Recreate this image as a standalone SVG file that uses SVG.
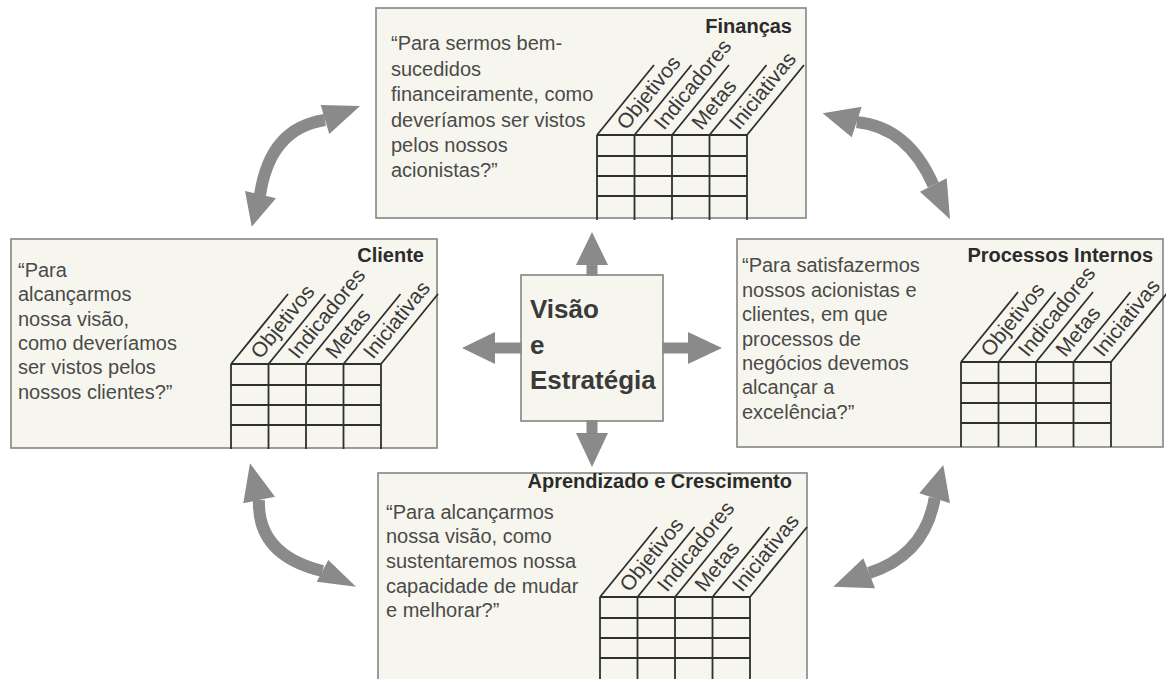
<svg xmlns="http://www.w3.org/2000/svg" xmlns:xlink="http://www.w3.org/1999/xlink" width="1166" height="679" viewBox="0 0 1166 679">
<style>
.box{fill:#f7f6ee;stroke:#858585;stroke-width:1.6}
.grid{fill:none;stroke:#2f2f2f;stroke-width:1.8}
.q{font-family:"Liberation Sans",Arial,sans-serif;font-size:20px;fill:#4a4a4a}
.t{font-family:"Liberation Sans",Arial,sans-serif;font-size:20px;font-weight:bold;fill:#2b2b2b;text-anchor:end}
.lbl{font-family:"Liberation Sans",Arial,sans-serif;font-size:21px;fill:#3a3a3a}
.c{font-family:"Liberation Sans",Arial,sans-serif;font-size:26px;font-weight:bold;fill:#3a3a3a}
.arr{fill:#8a8a8a}
.curve{fill:none;stroke:#8a8a8a;stroke-width:12}
</style>
<defs>
<path id="grid" class="grid" d="M0,0H150M0,21H150M0,41H150M0,61H150M0,0V85M37.5,0V85M75,0V85M112.5,0V85M150,0V85M0,0l57,-70M37.5,0l57,-70M75,0l57,-70M112.5,0l57,-70M150,0l57,-70"/>
</defs>
<rect width="1166" height="679" fill="#ffffff"/>

<g id="financas">
<rect class="box" x="376" y="8" width="430" height="210"/>
<text class="t" x="792" y="33">Finanças</text>
<text class="q" x="391" y="50">“Para sermos bem-</text>
<text class="q" x="391" y="76">sucedidos</text>
<text class="q" x="391" y="101">financeiramente, como</text>
<text class="q" x="391" y="127">deveríamos ser vistos</text>
<text class="q" x="391" y="152">pelos nossos</text>
<text class="q" x="391" y="177">acionistas?”</text>
<use xlink:href="#grid" x="597" y="135"/>
<text class="lbl" transform="translate(626.5,131) rotate(-51)">Objetivos</text>
<text class="lbl" transform="translate(664,131) rotate(-51)">Indicadores</text>
<text class="lbl" transform="translate(701.5,131) rotate(-51)">Metas</text>
<text class="lbl" transform="translate(739,131) rotate(-51)">Iniciativas</text>
</g>

<g id="cliente">
<rect class="box" x="11" y="239" width="426" height="209"/>
<text class="t" x="424" y="262">Cliente</text>
<text class="q" x="18" y="277">“Para</text>
<text class="q" x="18" y="301">alcançarmos</text>
<text class="q" x="18" y="326">nossa visão,</text>
<text class="q" x="18" y="350">como deveríamos</text>
<text class="q" x="18" y="374">ser vistos pelos</text>
<text class="q" x="18" y="399">nossos clientes?”</text>
<use xlink:href="#grid" x="231" y="364"/>
<text class="lbl" transform="translate(260.5,360) rotate(-51)">Objetivos</text>
<text class="lbl" transform="translate(298,360) rotate(-51)">Indicadores</text>
<text class="lbl" transform="translate(335.5,360) rotate(-51)">Metas</text>
<text class="lbl" transform="translate(373,360) rotate(-51)">Iniciativas</text>
</g>

<g id="processos">
<rect class="box" x="737" y="239" width="426" height="208"/>
<text class="t" x="1153" y="262">Processos Internos</text>
<text class="q" x="742" y="272">“Para satisfazermos</text>
<text class="q" x="742" y="297">nossos acionistas e</text>
<text class="q" x="742" y="321">clientes, em que</text>
<text class="q" x="742" y="346">processos de</text>
<text class="q" x="742" y="370">negócios devemos</text>
<text class="q" x="742" y="394">alcançar a</text>
<text class="q" x="742" y="419">excelência?”</text>
<use xlink:href="#grid" x="961" y="362"/>
<text class="lbl" transform="translate(990.5,358) rotate(-51)">Objetivos</text>
<text class="lbl" transform="translate(1028,358) rotate(-51)">Indicadores</text>
<text class="lbl" transform="translate(1065.5,358) rotate(-51)">Metas</text>
<text class="lbl" transform="translate(1103,358) rotate(-51)">Iniciativas</text>
</g>

<g id="aprendizado">
<rect class="box" x="378" y="473" width="429" height="220"/>
<text class="t" x="792" y="488">Aprendizado e Crescimento</text>
<text class="q" x="386" y="519">“Para alcançarmos</text>
<text class="q" x="386" y="543">nossa visão, como</text>
<text class="q" x="386" y="568">sustentaremos nossa</text>
<text class="q" x="386" y="593">capacidade de mudar</text>
<text class="q" x="386" y="617">e melhorar?”</text>
<use xlink:href="#grid" x="600" y="597"/>
<text class="lbl" transform="translate(629.5,593) rotate(-51)">Objetivos</text>
<text class="lbl" transform="translate(667,593) rotate(-51)">Indicadores</text>
<text class="lbl" transform="translate(704.5,593) rotate(-51)">Metas</text>
<text class="lbl" transform="translate(742,593) rotate(-51)">Iniciativas</text>
</g>

<g id="visao">
<rect class="box" x="521" y="275" width="142" height="146"/>
<text class="c" x="530" y="318">Visão</text>
<text class="c" x="530" y="354">e</text>
<text class="c" x="530" y="389">Estratégia</text>
</g>

<g id="connectors">
<rect class="arr" x="586.5" y="262" width="11" height="14"/>
<polygon class="arr" points="576,265 608,265 592,232"/>
<rect class="arr" x="493" y="342.5" width="29" height="11"/>
<polygon class="arr" points="495,332 495,364 462,348"/>
<rect class="arr" x="662" y="342.5" width="28" height="11"/>
<polygon class="arr" points="688,332 688,364 722,348"/>
<rect class="arr" x="586.5" y="420" width="11" height="15"/>
<polygon class="arr" points="576,433 608,433 592,467"/>

<path class="curve" d="M325,120 Q270,128 260,195"/>
<polygon class="arr" points="320.7,105 360,106 329.3,134"/>
<polygon class="arr" points="245,191 251.7,226.7 276,198.3"/>

<path class="curve" d="M856.7,122 Q908,127 933.3,185"/>
<polygon class="arr" points="861.7,106.7 822.7,113.3 851.7,137.3"/>
<polygon class="arr" points="920,191.7 950,219.3 946.7,178.3"/>

<path class="curve" d="M259,500 Q257,555 322.5,571"/>
<polygon class="arr" points="243.3,503.3 250,463.3 275,496.7"/>
<polygon class="arr" points="328.3,560 356,586.7 316.7,581.7"/>

<path class="curve" d="M934.7,498 Q925,555 869,573"/>
<polygon class="arr" points="919.3,493.3 943.3,465 950,503.3"/>
<polygon class="arr" points="863.3,558.3 833.3,586.7 875,588.3"/>
</g>
</svg>
